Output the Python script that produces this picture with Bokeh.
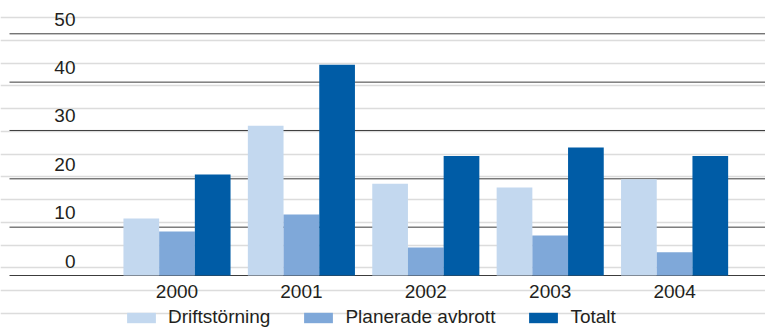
from bokeh.plotting import figure
from bokeh.models import Range1d, ColumnDataSource, Legend, LegendItem
from bokeh.transform import dodge
from bokeh.core.properties import value
from bokeh.embed import file_html
from bokeh.resources import INLINE

# Data: outage hours per year
years = ["2000", "2001", "2002", "2003", "2004"]
driftstorning = [11.8, 31.0, 19.0, 18.2, 19.9]
planerade_avbrott = [9.1, 12.6, 5.8, 8.3, 4.8]
totalt = [20.9, 43.6, 24.7, 26.5, 24.7]
y_ticks = [0, 10, 20, 30, 40, 50]
series_names = ["Driftstörning", "Planerade avbrott", "Totalt"]
series_colors = ["#c3d8ef", "#7fa8d9", "#005ca6"]

# Layout constants (pixels)
W, H = 765, 328
GROUP_PX = 124.4          # distance between year groups
FIRST_CENTER_PX = 176.5   # centre of first group from the left edge
Y_PX_PER_UNIT = 4.834
BASE_PX = 275.0           # vertical position of the zero line
BAR_PX = 35.7
FONT = "Liberation Sans"
TEXT_COLOR = "#231f20"

x_start = -FIRST_CENTER_PX / GROUP_PX
x_end = (W - FIRST_CENTER_PX) / GROUP_PX
y_start = -(H - BASE_PX) / Y_PX_PER_UNIT
y_end = BASE_PX / Y_PX_PER_UNIT

p = figure(width=W, height=H,
           x_range=Range1d(x_start, x_end), y_range=Range1d(y_start, y_end),
           x_axis_type=None, y_axis_type=None,
           output_backend="svg", toolbar_location=None,
           min_border=0, outline_line_color=None)
p.background_fill_color = "white"
p.border_fill_color = "white"

# Ruled background: thin light lines across the whole canvas
p.extra_y_ranges = {"rule": Range1d(H, 0)}
rule_y = [17 + 22.77 * k for k in range(14)]
p.hspan(y=rule_y, y_range_name="rule", line_color="#dcdcdc", line_width=1.3)

# Value gridlines
grid_x0 = x_start + 9 / GROUP_PX
p.segment(x0=grid_x0, y0=y_ticks, x1=x_end, y1=y_ticks,
          line_color="#3c3c3c", line_width=1)

# Grouped bars
bar_w = BAR_PX / GROUP_PX
src = ColumnDataSource(dict(x=list(range(len(years))), year=years,
                            d=driftstorning, pl=planerade_avbrott, t=totalt))
r1 = p.vbar(x=dodge("x", -bar_w), top="d", width=bar_w, source=src,
            fill_color=series_colors[0], line_color=None)
r2 = p.vbar(x="x", top="pl", width=bar_w, source=src,
            fill_color=series_colors[1], line_color=None)
r3 = p.vbar(x=dodge("x", bar_w), top="t", width=bar_w, source=src,
            fill_color=series_colors[2], line_color=None)

# Y tick labels sitting above their gridlines
label_x = x_start + 75 / GROUP_PX
p.text(x=label_x, y=y_ticks, text=[str(v) for v in y_ticks],
       text_align="right", text_baseline="middle", y_offset=-14.5,
       text_font=value(FONT), text_font_size="19px", text_color=TEXT_COLOR)

# Year labels under the groups
p.text(x="x", y=0, text="year", source=src,
       text_align="center", text_baseline="middle", y_offset=15.5,
       text_font=value(FONT), text_font_size="19px", text_color=TEXT_COLOR)

legend = Legend(
    items=[LegendItem(label=n, renderers=[r]) for n, r in zip(series_names, [r1, r2, r3])],
    orientation="horizontal", location=(123, 0),
    glyph_width=36, glyph_height=13, label_height=13, label_standoff=9,
    spacing=30, padding=0, margin=0,
    border_line_color=None, background_fill_alpha=0,
    label_text_font=FONT, label_text_font_size="19px", label_text_color=TEXT_COLOR,
)
p.add_layout(legend)

open("out.html", "w").write(file_html(p, INLINE))
